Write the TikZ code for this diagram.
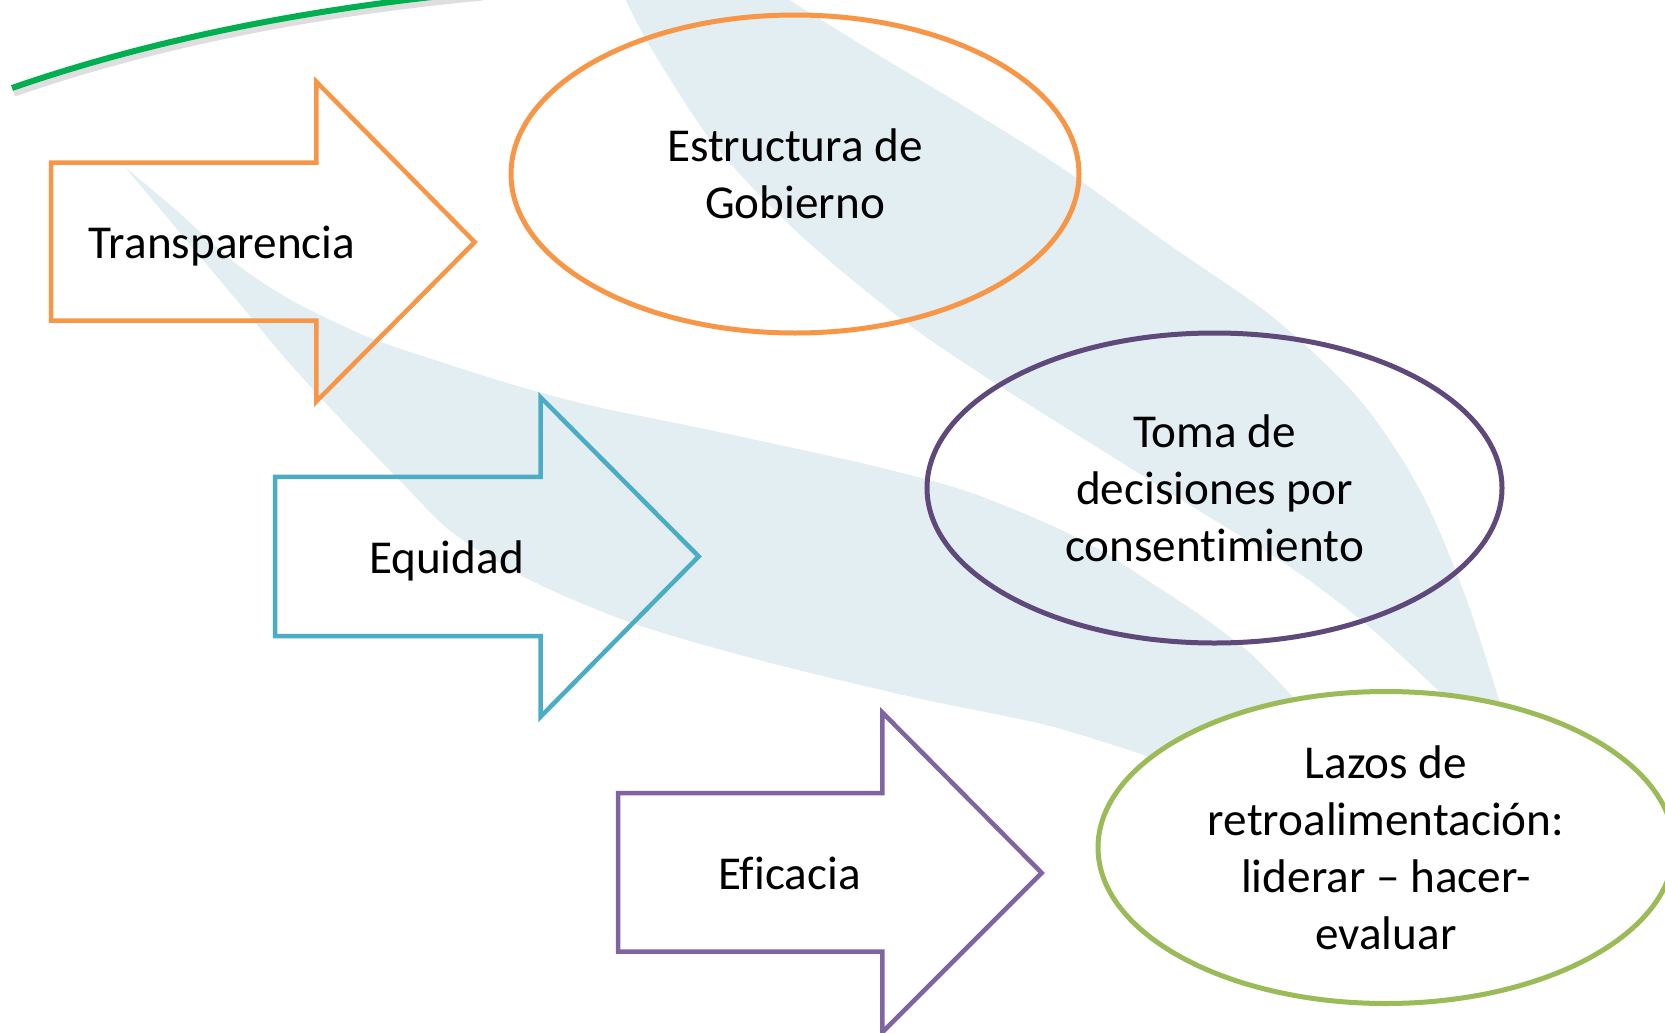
\documentclass[tikz,border=0pt]{standalone}
\usepackage{fontspec}
\setmainfont[Ligatures={NoCommon}]{Carlito}
\usetikzlibrary{shapes.geometric}
\definecolor{bandblue}{RGB}{227,238,242}
\definecolor{orangeC}{RGB}{247,150,70}
\definecolor{blueC}{RGB}{75,172,198}
\definecolor{purpleC}{RGB}{128,100,162}
\definecolor{darkpurpleC}{RGB}{95,73,122}
\definecolor{greenC}{RGB}{155,187,89}
\definecolor{lineGreen}{RGB}{0,176,80}
\begin{document}
\begin{tikzpicture}[x=0.5pt,y=-0.5pt,
  band/.style={fill=bandblue},
  arrowshape/.style={line width=2.25pt, line join=miter},
  oval/.style={ellipse, line width=2.5pt, inner sep=0pt},
  lbl/.style={font=\fontsize{23.6pt}{28.5pt}\selectfont, align=center, inner sep=0pt, text=black}]
\useasboundingbox (0,0) rectangle (1665,1033);

% background swooshes
\fill[band] plot[smooth] coordinates {(620,-12) (648,43) (713,143) (797,232) (900,318) (998,385) (1193,507) (1290,567) (1367,625) (1443,695)}
  -- (1470,745) -- (1512,745) --
  plot[smooth] coordinates {(1500,703) (1465,595) (1420,490) (1360,400) (1274,318) (1168,244) (1065,170) (970,110) (870,50) (770,-12)} -- cycle;
\fill[band] plot[smooth] coordinates {(125,167) (176,210) (234,262) (291,300) (368,337) (444,363) (521,387) (597,407) (700,428) (861,463) (963,490) (1046,523) (1100,550) (1150,582) (1200,615) (1250,653) (1293,697)}
  -- (1315,745) -- (1165,790) --
  plot[smooth] coordinates {(1150,757) (1046,725) (912,697) (759,660) (632,623) (530,580) (453,533) (406,487) (349,428) (291,365) (234,297) (176,228) (125,167)} -- cycle;

% green curve with shadow
\draw[black, opacity=0.13, line width=3.6pt, shift={(2,5)}] (12,88) .. controls (150,40) and (310,8) .. (480,-8);
\draw[lineGreen, line width=3pt] (12,88) .. controls (150,40) and (310,8) .. (480,-8);

% arrows
\draw[arrowshape, orangeC] (51,162.5) -- (316.4,162.5) -- (316.4,81.8) -- (474.7,242.1) -- (316.4,401.4) -- (316.4,320.7) -- (51,320.7) -- cycle;
\draw[arrowshape, blueC] (275,476.8) -- (540.5,476.8) -- (540.5,397.2) -- (698.7,556.4) -- (540.5,716.8) -- (540.5,636.1) -- (275,636.1) -- cycle;
\draw[arrowshape, purpleC] (618,793.2) -- (882.4,793.2) -- (882.4,712.5) -- (1041.7,872.9) -- (882.4,1032.2) -- (882.4,951.5) -- (618,951.5) -- cycle;

\node[lbl] (t1) at (222,246) {Transparencia};
\node[lbl] (t2) at (446.5,561) {Equidad};
\node[lbl] (t3) at (789.5,873) {Eficacia};

% ellipses
\node[oval, draw=orangeC, minimum width=284pt, minimum height=159pt] (e1) at (795,174) {};
\node[oval, draw=darkpurpleC, minimum width=287.5pt, minimum height=155pt] (e2) at (1214.5,488) {};
\node[oval, draw=greenC, fill=white, minimum width=288pt, minimum height=156pt] (e3) at (1386,847.5) {};

\node[lbl] (l1) at (e1.center) {Estructura de\\Gobierno};
\node[lbl] (l2) at (e2.center) {Toma de\\decisiones por\\consentimiento};
\node[lbl] (l3) at (e3.center) {Lazos de\\retroalimentación:\\liderar – hacer-\\evaluar};
\end{tikzpicture}
\end{document}
